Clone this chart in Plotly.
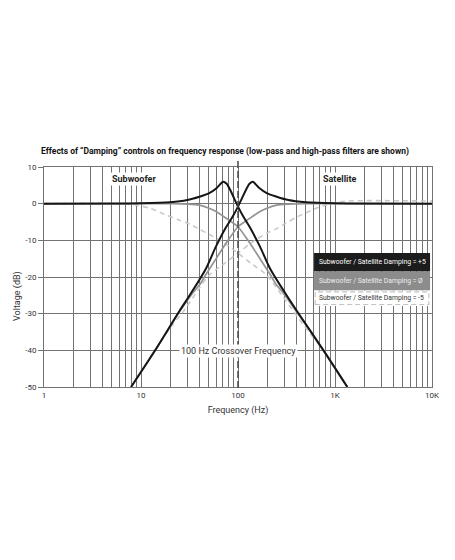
import plotly.graph_objects as go

# Frequency (Hz) / level (dB)
sub_p5_f = [1, 10, 20, 30, 40, 50, 60, 65, 70, 76, 83, 91, 100, 115, 133, 169, 213, 305, 403, 760, 1340]
sub_p5_db = [0, 0.1, 0.4, 1.0, 1.9, 2.8, 4.2, 5.2, 6.0, 5.5, 3.8, 1.5, -0.8, -3.8, -6.5, -11.8, -17.6, -24.3, -29.2, -40, -50]

sat_p5_f = [7.9, 14, 25, 33, 47, 59, 75, 87, 100, 110, 121, 132, 143, 153, 167, 200, 250, 330, 500, 1000, 10000]
sat_p5_db = [-50, -40, -29.2, -24.3, -17.6, -11.8, -6.5, -3.8, -0.8, 1.5, 3.8, 5.5, 6.0, 5.2, 4.2, 2.8, 1.9, 1.0, 0.4, 0.1, 0]

sub_0_f = [1, 20, 30, 40, 51, 60, 71, 85, 100, 125, 154, 182, 213, 250, 286, 333, 400, 760, 1340]
sub_0_db = [0, 0, -0.1, -0.4, -1.3, -2.2, -3.5, -4.9, -6.3, -9.8, -13.4, -16.4, -19.2, -22.2, -24.0, -26.4, -29.4, -40, -50]

sat_0_f = [7.9, 14, 25, 30, 35, 40, 47, 55, 65, 80, 100, 118, 141, 167, 196, 250, 333, 500, 10000]
sat_0_db = [-50, -40, -29.4, -26.4, -24.0, -22.2, -19.2, -16.4, -13.4, -9.8, -6.3, -4.9, -3.5, -2.2, -1.3, -0.4, -0.1, 0, 0]

sub_m5_f = [1, 6, 9, 12.5, 18.5, 25, 32, 40, 50, 70, 100, 140, 200, 280, 380, 515, 760, 1340]
sub_m5_db = [0, 0, -0.4, -1.3, -3.2, -4.5, -5.6, -7.0, -8.3, -10.5, -13.5, -16.5, -19.6, -24.8, -29.6, -34.4, -40, -50]

sat_m5_f = [7.9, 14, 20.5, 27, 36, 50, 71, 100, 140, 200, 250, 312, 400, 500, 600, 750, 960, 1300, 10000]
sat_m5_db = [-50, -40, -33.5, -29.6, -24.8, -19.6, -16.5, -13.5, -10.5, -8.0, -6.8, -5.3, -3.7, -2.5, -1.6, -0.6, 0.2, 0.7, 0.7]

x_major = [1, 10, 100, 1000, 10000]
x_major_text = ["1", "10", "100", "1K", "10K"]
y_ticks = [10, 0, -10, -20, -30, -40, -50]
y_ticks_text = ["10", "0", "-10", "-20", "-30", "-40", "-50"]

legend_text = [
    "Subwoofer / Satellite Damping = +5",
    "Subwoofer / Satellite Damping = Ø",
    "Subwoofer / Satellite Damping = -5",
]

FONT = "Roboto"
GRID = "#737373"

fig = go.Figure()

# dashed (-5) curves first, then grey (0), black (+5) on top
for fx, fy in [(sub_m5_f, sub_m5_db), (sat_m5_f, sat_m5_db)]:
    fig.add_trace(go.Scatter(x=fx, y=fy, mode="lines",
                             line=dict(color="#c9c9c9", width=1.6, dash="5px,4px", shape="spline", smoothing=0.8),
                             hoverinfo="skip", showlegend=False))
for fx, fy in [(sub_0_f, sub_0_db), (sat_0_f, sat_0_db)]:
    fig.add_trace(go.Scatter(x=fx, y=fy, mode="lines",
                             line=dict(color="#939393", width=1.7, shape="spline", smoothing=0.8),
                             hoverinfo="skip", showlegend=False))
for fx, fy in [(sub_p5_f, sub_p5_db), (sat_p5_f, sat_p5_db)]:
    fig.add_trace(go.Scatter(x=fx, y=fy, mode="lines",
                             line=dict(color="#161616", width=2, shape="spline", smoothing=0.8),
                             hoverinfo="skip", showlegend=False))

# grid positions on the log axis: 1..9 in each decade
grid_vals = []
grid_text = []
for dec in [1, 10, 100, 1000]:
    for k in range(1, 10):
        grid_vals.append(dec * k)
        grid_text.append(x_major_text[x_major.index(dec)] if k == 1 else "")
grid_vals.append(10000)
grid_text.append("10K")

# crossover marker at 100 Hz
fig.add_shape(type="line", x0=100, x1=100, xref="x", y0=-0.005, y1=1.03, yref="paper",
              line=dict(color="#4a4a4a", width=1.5, dash="7px,3px"), layer="above")

# text labels with white backing
fig.add_annotation(x=0.93, y=6.6, text="<b>Subwoofer</b>", showarrow=False,
                   font=dict(family=FONT, size=9, color="#222"), bgcolor="white")
fig.add_annotation(x=3.05, y=6.6, text="<b>Satellite</b>", showarrow=False,
                   font=dict(family=FONT, size=9, color="#222"), bgcolor="white")
fig.add_annotation(x=2, y=-40.3, text="100 Hz Crossover Frequency", showarrow=False,
                   font=dict(family=FONT, size=9, color="#333"), bgcolor="white")

# legend boxes
boxes = [(0.609, 0.525, "#1c1c1c", "white"),
         (0.525, 0.439, "#8c8c8c", "#eeeeee"),
         (0.439, 0.368, "white", "#333333")]
for (y1, y0, fill, tcol), label in zip(boxes, legend_text):
    fig.add_shape(type="rect", xref="paper", yref="paper", x0=0.696, x1=0.995, y0=y0, y1=y1,
                  fillcolor=fill, line=dict(width=0), layer="above")
    fig.add_annotation(xref="paper", yref="paper", x=0.704, y=(y0 + y1) / 2, text=label,
                       showarrow=False, xanchor="left", yanchor="middle",
                       font=dict(family=FONT, size=6.8, color=tcol))
fig.add_shape(type="rect", xref="paper", yref="paper", x0=0.699, x1=0.992, y0=0.375, y1=0.432,
              line=dict(color="#c4c4c4", width=1.2, dash="5px,3px"), layer="above")

fig.add_annotation(xref="paper", yref="paper", x=-0.067, y=0.414, text="Voltage (dB)",
                   textangle=-90, showarrow=False, xanchor="center", yanchor="middle",
                   font=dict(family=FONT, size=9, color="#333"))

# page has an 8px body margin, so margins are shifted to land the plot where the reference has it
fig.update_layout(
    width=455, height=560, autosize=False,
    margin=dict(l=36, r=31, t=159, b=181),
    paper_bgcolor="white", plot_bgcolor="white",
    showlegend=False,
    title=dict(text="<b>Effects of \u201cDamping\u201d controls on frequency response (low-pass and high-pass filters are shown)</b>",
               x=(225 - 8) / 455, xanchor="center", y=1 - 143 / 560, yanchor="middle",
               font=dict(family=FONT, size=8.5, color="#111")),
    xaxis=dict(type="log", range=[0, 4], tickvals=grid_vals, ticktext=grid_text,
               showgrid=True, gridcolor=GRID, gridwidth=1, zeroline=False,
               showline=True, linecolor=GRID, mirror=True,
               tickfont=dict(family=FONT, size=8, color="#333"),
               title=dict(text="Frequency (Hz)", font=dict(family=FONT, size=9, color="#333"), standoff=8)),
    yaxis=dict(range=[-50, 10], tickvals=y_ticks, ticktext=y_ticks_text,
               showgrid=True, gridcolor=GRID, gridwidth=1, zeroline=False,
               showline=True, linecolor=GRID, mirror=True,
               ticks="outside", ticklen=5, tickcolor=GRID,
               tickfont=dict(family=FONT, size=8, color="#333")),
)

fig.write_html("out.html")
